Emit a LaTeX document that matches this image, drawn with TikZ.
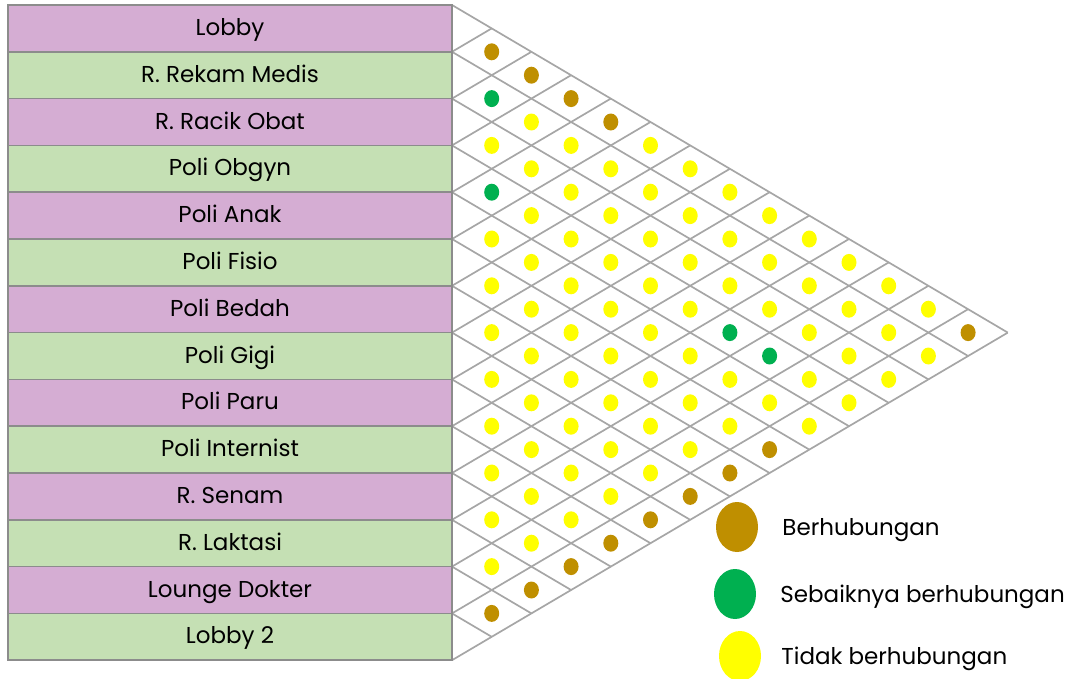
\documentclass[tikz,border=0pt]{standalone}
\usepackage{fontspec}
\setmainfont{Poppins}
\usetikzlibrary{positioning,shapes.geometric}
\definecolor{roomA}{HTML}{D5ADD3}
\definecolor{roomB}{HTML}{C5E0B4}
\definecolor{gridgray}{HTML}{A6A6A6}
\definecolor{edgegray}{HTML}{8C8C8C}
\definecolor{linked}{HTML}{BF8F00}
\definecolor{advised}{HTML}{00B050}
\definecolor{unlinked}{HTML}{FFFF00}
\tikzset{
  room/.style={draw=edgegray,line width=1.6pt,minimum width=444pt,minimum height=46.8pt,
    inner sep=0pt,text height=17pt,text depth=3pt,font=\fontsize{23}{27}\selectfont},
  grid/.style={draw=gridgray,line width=1.7pt},
  dot/.style={ellipse,minimum width=15pt,minimum height=17pt,inner sep=0pt},
  lnk/.style={fill=linked},
  adv/.style={fill=advised},
  non/.style={fill=unlinked},
  key/.style={ellipse,minimum width=42pt,minimum height=50pt,inner sep=0pt},
  keytext/.style={inner sep=0pt,text height=17pt,text depth=0pt,font=\fontsize{23}{27}\selectfont}
}

\begin{document}
\begin{tikzpicture}[x=1pt,y=-1pt]
\useasboundingbox (0,0) rectangle (1074,678);

\foreach \k in {0,...,14}{
  \draw[grid] (452,{5+46.8*\k}) -- ++({(14-\k)*39.7},{(14-\k)*23.4});
  \draw[grid] (452,{5+46.8*\k}) -- ++({\k*39.7},{-\k*23.4});
}

\foreach \name/\col [count=\k] in {Lobby/roomA,R. Rekam Medis/roomB,R. Racik Obat/roomA,
  Poli Obgyn/roomB,Poli Anak/roomA,Poli Fisio/roomB,Poli Bedah/roomA,Poli Gigi/roomB,
  Poli Paru/roomA,Poli Internist/roomB,R. Senam/roomA,R. Laktasi/roomB,
  Lounge Dokter/roomA,Lobby 2/roomB}
  \node[room,fill=\col] (r\k) at (230,{5+46.8*(\k-0.5)}) {\name};

\foreach \i/\row in {
  1/{lnk,lnk,lnk,lnk,non,non,non,non,non,non,non,non,lnk},
  2/{adv,non,non,non,non,non,non,non,non,non,non,non},
  3/{non,non,non,non,non,non,non,non,non,non,non},
  4/{adv,non,non,non,non,non,adv,adv,non,non},
  5/{non,non,non,non,non,non,non,non,non},
  6/{non,non,non,non,non,non,non,lnk},
  7/{non,non,non,non,non,non,lnk},
  8/{non,non,non,non,non,lnk},
  9/{non,non,non,non,lnk},
  10/{non,non,non,lnk},
  11/{non,non,lnk},
  12/{non,lnk},
  13/{lnk}}
  \foreach \c [count=\d, evaluate=\d as \j using int(\i+\d)] in \row
    \node[dot,\c] (d\i-\j) at ({452+\d*39.7},{5+23.4*(2*\i+\d-1)}) {};

\node[key,lnk] (kLnk) at (737,527) {};
\node[keytext,right=24pt of kLnk] {Berhubungan};
\node[key,adv] (kAdv) at (735,594) {};
\node[keytext,right=24pt of kAdv] {Sebaiknya berhubungan};
\node[key,non] (kNon) at (740,656) {};
\node[keytext,right=20pt of kNon] {Tidak berhubungan};
\end{tikzpicture}
\end{document}
